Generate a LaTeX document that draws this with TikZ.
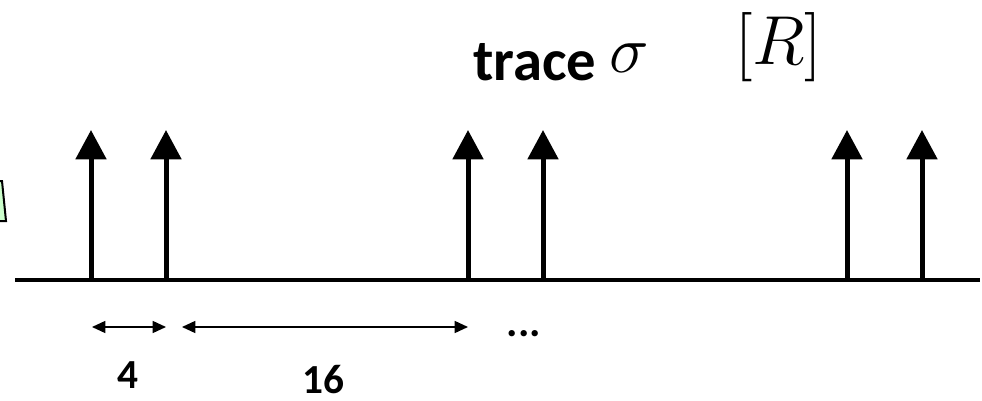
\RequirePackage{fix-cm}
\documentclass[tikz,border=0pt]{standalone}
\usepackage{fontspec}
\setmainfont{Carlito}
\usetikzlibrary{arrows.meta}
\begin{document}
\begin{tikzpicture}[x=0.75pt,y=-0.75pt,
  spike/.style={line width=3.75pt,-{Triangle[width=22.5pt,length=22pt]}},
  dimarrow/.style={line width=1.1pt,{Triangle[width=9pt,length=10pt]}-{Triangle[width=9pt,length=10pt]}},
  numlabel/.style={inner sep=0pt,anchor=base,font=\fontsize{31}{36}\selectfont\bfseries},
  mathlabel/.style={inner sep=0pt,anchor=base west}]
\useasboundingbox (0,0) rectangle (982,400);
% partial green box at the left edge
\draw[line width=1.5pt,fill=green!20] (-20,181) -- (2,181) -- (6,221) -- (-20,221) -- cycle;
% time axis
\coordinate (axL) at (15,280);
\coordinate (axR) at (980,280);
\draw[line width=3pt] (axL) -- (axR);
% spikes
\foreach \i/\x in {1/91,2/166,3/468,4/543,5/847,6/922}{
  \coordinate (b\i) at (\x,280);
  \coordinate (t\i) at (\x,130);
  \draw[spike] (b\i) -- (t\i);
}
% dimension arrows
\coordinate (d1a) at (92,327); \coordinate (d1b) at (166,327);
\coordinate (d2a) at (182,327); \coordinate (d2b) at (468,327);
\draw[dimarrow] (d1a) -- (d1b);
\draw[dimarrow] (d2a) -- (d2b);
\node[inner sep=0pt,anchor=base,font=\fontsize{32}{38}\selectfont\bfseries] (dots) at (524,336) {...};
\node[numlabel] (four) at (128,388) {4};
\node[numlabel] (sixteen) at (323,393) {16};
% title
\node[inner sep=0pt,anchor=base west,font=\fontsize{44}{52}\selectfont\bfseries] (trace) at (473,80) {trace};
\node[mathlabel,font=\fontsize{50}{60}\selectfont] (sigma) at (609,72) {$\sigma$};
\node[mathlabel,font=\fontsize{52}{62}\selectfont] (R) at (735,64) {$[R]$};
\end{tikzpicture}
\end{document}
